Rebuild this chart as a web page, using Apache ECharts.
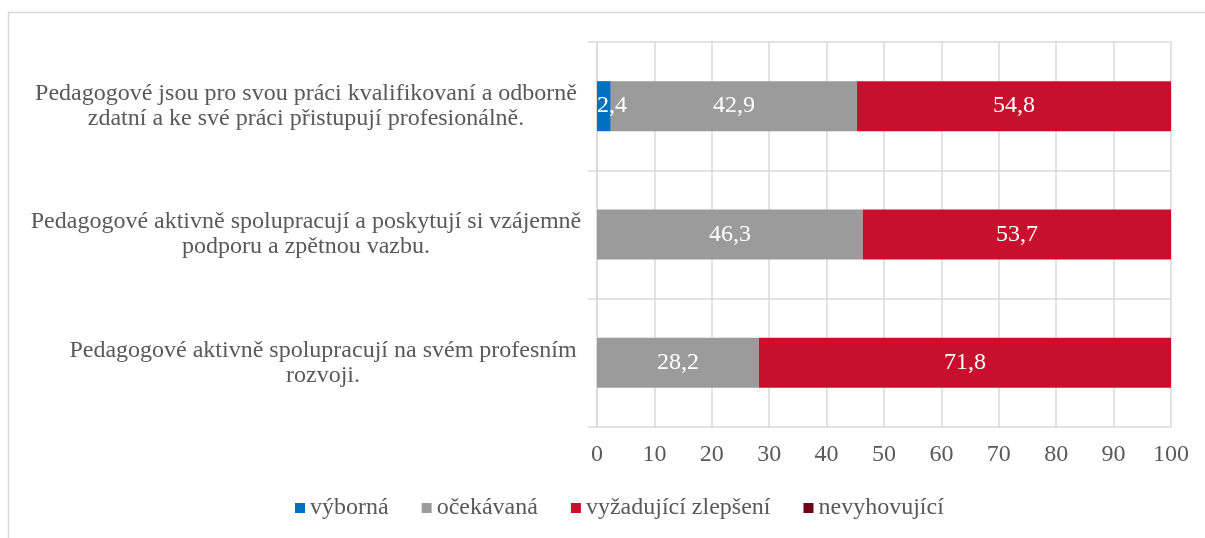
<!DOCTYPE html>
<html>
<head>
<meta charset="utf-8">
<script src="https://cdn.jsdelivr.net/npm/echarts@6/dist/echarts.min.js"></script>
<style>
html,body{margin:0;padding:0;background:#fff;}
#chart{width:1205px;height:538px;}
</style>
</head>
<body>
<div id="chart"></div>
<script>
const categories = [
  "Pedagogové jsou pro svou práci kvalifikovaní a odborně\nzdatní a ke své práci přistupují profesionálně.",
  "Pedagogové aktivně spolupracují a poskytují si vzájemně\npodporu a zpětnou vazbu.",
  "Pedagogové aktivně spolupracují na svém profesním\nrozvoji."
];
const seriesNames = ["výborná", "očekávaná", "vyžadující zlepšení", "nevyhovující"];
const vyborna = [2.4, 0, 0];
const ocekavana = [42.9, 46.3, 28.2];
const vyzadujici = [54.8, 53.7, 71.8];
const nevyhovujici = [0, 0, 0];
const xTicks = [0, 10, 20, 30, 40, 50, 60, 70, 80, 90, 100];

const colors = ["#0070C0", "#9B9B9B", "#C8102E", "#700018"];
const FONT = "Liberation Serif";
const allData = [vyborna, ocekavana, vyzadujici, nevyhovujici];

const chart = echarts.init(document.getElementById('chart'), null, {renderer: 'canvas'});
const series = seriesNames.map((name, i) => ({
  name: name,
  type: 'bar',
  stack: 'total',
  barWidth: '39%',
  itemStyle: {color: colors[i]},
  label: {
    show: true,
    position: i === 0 ? 'insideLeft' : 'inside',
    distance: 0,
    color: '#ffffff',
    fontFamily: FONT,
    fontSize: 24,
    formatter: p => p.value ? String(p.value).replace('.', ',') : ''
  },
  data: allData[i]
}));

const labelStyle = {fontFamily: FONT, fontSize: 24, color: '#595959', align: 'center', lineHeight: 25};
const yData = categories.map((c, i) => i === 2
  ? {value: c, textStyle: Object.assign({}, labelStyle, {padding: [0, 0, 0, 34]})}
  : c);

chart.setOption({
  animation: false,
  backgroundColor: '#ffffff',
  textStyle: {fontFamily: FONT},
  graphic: [{
    type: 'rect',
    shape: {x: 8.5, y: 12.5, width: 1210, height: 540},
    style: {fill: 'none', stroke: '#d9d9d9', lineWidth: 1.5},
    silent: true
  }],
  grid: {left: 597, right: 34, top: 42, bottom: 111, containLabel: false, outerBoundsMode: 'none'},
  legend: {
    bottom: 13,
    left: 290,
    icon: 'rect',
    itemWidth: 10,
    itemHeight: 10,
    itemGap: 33,
    textStyle: {fontFamily: FONT, fontSize: 24, color: '#595959'},
    data: seriesNames
  },
  xAxis: {
    type: 'value',
    min: 0,
    max: 100,
    interval: 10,
    axisLine: {show: false},
    axisTick: {show: false},
    splitLine: {show: true, lineStyle: {color: '#d9d9d9', width: 1.5}},
    axisLabel: {
      fontFamily: FONT, fontSize: 24, color: '#595959', margin: 16,
      formatter: v => xTicks.includes(v) ? String(v) : ''
    }
  },
  yAxis: {
    type: 'category',
    inverse: true,
    data: yData,
    axisLine: {show: true, lineStyle: {color: '#d9d9d9', width: 1.5}},
    axisTick: {show: true, length: 9, lineStyle: {color: '#d9d9d9', width: 1.5}},
    splitLine: {show: true, lineStyle: {color: '#d9d9d9', width: 1.5}},
    axisLabel: Object.assign({margin: 291}, labelStyle)
  },
  series: series
});
</script>
</body>
</html>
